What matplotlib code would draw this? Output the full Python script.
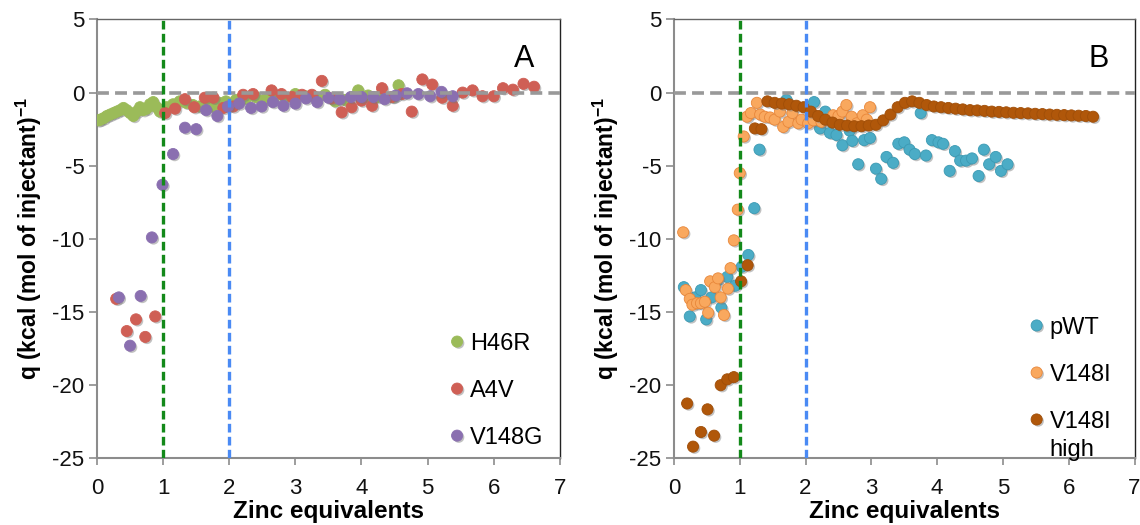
import numpy as np
import matplotlib.pyplot as plt
import matplotlib.patheffects as pe
from matplotlib.legend_handler import HandlerPathCollection

plt.rcParams['font.family'] = ['Liberation Sans', 'DejaVu Sans']
plt.rcParams['axes.unicode_minus'] = False

# ---- Panel A data ----
h46r_x = [0.02, 0.05, 0.1, 0.15, 0.2, 0.25, 0.3, 0.35, 0.4, 0.45, 0.5, 0.55, 0.6, 0.65, 0.7,
          0.75, 0.8, 0.85, 0.9, 0.95, 1.0, 1.05, 1.15, 1.25, 1.35, 1.45, 1.55, 1.65, 1.75,
          1.85, 1.95, 2.1, 2.25, 2.4, 2.55, 2.7, 2.85, 3.0, 3.15, 3.3, 3.45, 3.6, 3.75,
          3.95, 4.1, 4.25, 4.48, 4.56]
h46r_y = [-1.9, -1.85, -1.75, -1.6, -1.5, -1.4, -1.3, -1.2, -1.05, -1.2, -1.4, -1.6, -1.3,
          -1.0, -1.2, -1.1, -0.8, -0.65, -1.0, -1.3, -1.25, -1.0, -0.8, -0.6, -0.7, -0.85,
          -0.95, -0.8, -0.95, -0.7, -0.6, -0.5, -0.4, -0.3, -0.45, -0.2, -0.35, -0.1, -0.25,
          -0.3, -0.15, -0.6, -0.5, 0.15, -0.2, -0.3, -0.3, 0.5]

a4v_x = [0.29, 0.45, 0.59, 0.73, 0.88, 1.03, 1.18, 1.33, 1.47, 1.63, 1.76, 1.91, 2.06, 2.21,
         2.36, 2.64, 2.79, 2.95, 3.10, 3.25, 3.40, 3.55, 3.70, 3.85, 4.0, 4.16, 4.31, 4.46,
         4.61, 4.76, 4.92, 5.07, 5.22, 5.38, 5.53, 5.68, 5.83, 6.0, 6.14, 6.29, 6.45, 6.61]
a4v_y = [-14.1, -16.3, -15.5, -16.7, -15.3, -1.4, -1.1, -0.45, -1.0, -0.35, -0.35, -1.05,
         -0.95, -0.15, -0.1, 0.15, -0.1, -0.3, -0.15, -0.15, 0.8, -0.4, -1.35, -1.0, -0.55,
         -0.9, 0.3, -0.3, -0.1, -1.3, 0.9, 0.55, -0.35, -0.9, 0.0, 0.15, -0.25, -0.25, 0.3,
         0.2, 0.6, 0.4]

v148g_x = [0.33, 0.50, 0.66, 0.83, 0.99, 1.15, 1.33, 1.50, 1.65, 1.82, 1.98, 2.15, 2.33,
           2.49, 2.66, 2.82, 3.0, 3.16, 3.33, 3.50, 3.67, 3.84, 4.0, 4.18, 4.35, 4.52, 4.69,
           4.86, 5.04, 5.21, 5.38]
v148g_y = [-14.0, -17.3, -13.9, -9.9, -6.3, -4.2, -2.4, -2.5, -1.2, -1.6, -0.95, -0.75,
           -1.05, -0.95, -0.65, -0.9, -0.75, -0.4, -0.65, -0.35, -0.45, -0.3, -0.3, -0.3,
           -0.45, -0.2, -0.05, -0.1, -0.25, 0.05, -0.25]

# ---- Panel B data ----
pwt_x = [0.15, 0.24, 0.32, 0.41, 0.49, 0.57, 0.65, 0.72, 0.81, 0.93, 1.03, 1.13, 1.22,
         1.30, 1.71, 2.13, 2.22, 2.30, 2.37, 2.47, 2.56, 2.67, 2.71, 2.80, 2.89, 2.98,
         3.07, 3.15, 3.23, 3.33, 3.41, 3.50, 3.58, 3.66, 3.75, 3.83, 3.92, 4.02, 4.09,
         4.19, 4.27, 4.35, 4.44, 4.53, 4.63, 4.71, 4.79, 4.89, 4.97, 5.07]
pwt_y = [-13.3, -15.3, -14.0, -13.5, -15.5, -14.0, -12.9, -14.7, -12.6, -13.2, -11.9,
         -11.1, -7.9, -3.9, -0.5, -0.65, -2.45, -1.3, -2.75, -2.9, -3.6, -2.6, -3.3, -4.9,
         -3.25, -3.1, -5.2, -5.9, -4.4, -4.8, -3.5, -3.4, -3.9, -4.2, -1.4, -4.3, -3.25,
         -3.4, -3.5, -5.35, -4.0, -4.65, -4.65, -4.5, -5.7, -3.9, -4.9, -4.4, -5.35, -4.9]

v148i_x = [0.14, 0.18, 0.24, 0.28, 0.35, 0.41, 0.47, 0.52, 0.55, 0.62, 0.67, 0.71, 0.76,
           0.82, 0.86, 0.91, 0.97, 1.0, 1.06, 1.11, 1.17, 1.26, 1.31, 1.38, 1.46, 1.53,
           1.61, 1.66, 1.74, 1.80, 1.89, 1.94, 2.04, 2.12, 2.24, 2.34, 2.42, 2.50, 2.56,
           2.62, 2.70, 2.78, 2.87, 2.93, 2.98]
v148i_y = [-9.55, -13.5, -14.1, -14.5, -14.4, -14.4, -14.3, -15.05, -12.9, -13.3, -12.7,
           -14.0, -15.2, -13.4, -12.0, -10.1, -8.0, -5.5, -3.0, -1.65, -1.4, -0.7, -1.5,
           -1.65, -1.7, -1.85, -1.3, -2.35, -2.0, -1.4, -2.1, -1.85, -2.1, -1.9, -2.0,
           -1.85, -1.55, -1.6, -1.3, -0.85, -1.65, -2.1, -1.55, -1.85, -1.0]

high_x = [0.20, 0.29, 0.41, 0.51, 0.61, 0.71, 0.81, 0.91, 1.02, 1.12, 1.23, 1.33,
          1.42, 1.53, 1.64, 1.75, 1.86, 1.97, 2.08, 2.19, 2.30, 2.41, 2.52, 2.63, 2.74,
          2.85, 2.96, 3.07, 3.18, 3.29, 3.40, 3.51, 3.62, 3.73, 3.84, 3.95, 4.06, 4.17,
          4.28, 4.39, 4.50, 4.61, 4.72, 4.83, 4.94, 5.05, 5.16, 5.27, 5.38, 5.49, 5.60,
          5.71, 5.82, 5.93, 6.04, 6.15, 6.26, 6.37]
high_y = [-21.25, -24.2, -23.2, -21.65, -23.45, -20.0, -19.6, -19.45, -12.9, -11.8,
          -2.45, -2.5, -0.6, -0.7, -0.75, -0.8, -0.9, -1.0, -1.3, -1.6, -1.85, -2.05,
          -2.2, -2.25, -2.3, -2.3, -2.25, -2.2, -1.9, -1.5, -1.0, -0.7, -0.6, -0.7,
          -0.85, -0.95, -1.0, -1.05, -1.1, -1.15, -1.2, -1.22, -1.25, -1.3, -1.32, -1.35,
          -1.38, -1.4, -1.42, -1.45, -1.47, -1.5, -1.52, -1.54, -1.56, -1.58, -1.6, -1.65]

panel_a = [("H46R", h46r_x, h46r_y, "#9bbb59", "#9bbb59"),
           ("A4V", a4v_x, a4v_y, "#cf5f55", "#cf5f55"),
           ("V148G", v148g_x, v148g_y, "#8a6fb0", "#8a6fb0")]
panel_b = [("pWT", pwt_x, pwt_y, "#4bacc6", "#3c9ab3"),
           ("V148I", v148i_x, v148i_y, "#f9a85e", "#e8873a"),
           ("V148I\nhigh", high_x, high_y, "#b0570a", "#a04e08")]

shadow = [pe.SimplePatchShadow(offset=(1.2, -1.2), shadow_rgbFace="#777777", alpha=0.45),
          pe.Normal()]

fig = plt.figure(figsize=(11.4, 5.25), dpi=100)
ax_a = fig.add_axes([0.0851, 0.127, 0.406, 0.836])
ax_b = fig.add_axes([0.5912, 0.127, 0.404, 0.836])


def style_panel(ax, series, letter, legend_anchor, spacing):
    handles = []
    for label, xs, ys, face, edge in series:
        sc = ax.scatter(xs, ys, s=64, color=face, edgecolors=edge, linewidths=0.6,
                        label=label, zorder=3, path_effects=shadow)
        handles.append(sc)

    ax.axhline(0, color="#999999", lw=2.6, ls=(0, (3.3, 1.7)), zorder=4)
    ax.axvline(1, color="#13891a", lw=2.4, ls=(0, (2.6, 1.3)), zorder=4)
    ax.axvline(2, color="#4a8af4", lw=2.4, ls=(0, (2.6, 1.3)), zorder=4)

    ax.set_xlim(0, 7)
    ax.set_ylim(-25, 5)
    ax.set_xticks(range(0, 8))
    ax.set_yticks(range(-25, 6, 5))

    for side in ("left", "bottom"):
        ax.spines[side].set_color("#8c8c8c")
        ax.spines[side].set_linewidth(1.5)
    ax.spines["top"].set_color("#666666")
    ax.spines["top"].set_linewidth(1.0)
    ax.spines["right"].set_color("#222222")
    ax.spines["right"].set_linewidth(1.0)

    ax.tick_params(axis="both", direction="out", colors="#8c8c8c", labelcolor="#111111",
                   labelsize=16, width=1.2)
    ax.tick_params(axis="y", length=6, pad=3)
    ax.tick_params(axis="x", length=5, pad=9)

    ax.set_xlabel("Zinc equivalents", fontsize=17.5, fontweight="bold", labelpad=1)
    ax.set_ylabel(r"q (kcal (mol of injectant)$^{\mathregular{-1}}$", fontsize=16.5,
                  fontweight="bold", labelpad=6)

    ax.text(0.945, 0.91, letter, transform=ax.transAxes, fontsize=22,
            ha="right", va="center")

    # the two-line label keeps its marker level with its first line
    hmap = {}
    if "\n" in series[-1][0]:
        hmap[handles[-1]] = HandlerPathCollection(yoffsets=[1.5])
    leg = ax.legend(handles=handles, loc="lower right", bbox_to_anchor=legend_anchor,
                    frameon=False, fontsize=17, labelspacing=spacing, handletextpad=0.1,
                    handlelength=0.9, scatteryoffsets=[0.5], borderaxespad=0,
                    handler_map=hmap)
    for t in leg.get_texts():
        t.set_linespacing(1.35)


style_panel(ax_a, panel_a, "A", (0.985, 0.0), 1.06)
style_panel(ax_b, panel_b, "B", (0.97, -0.027), 1.06)

fig.savefig("out.png", dpi=100)
